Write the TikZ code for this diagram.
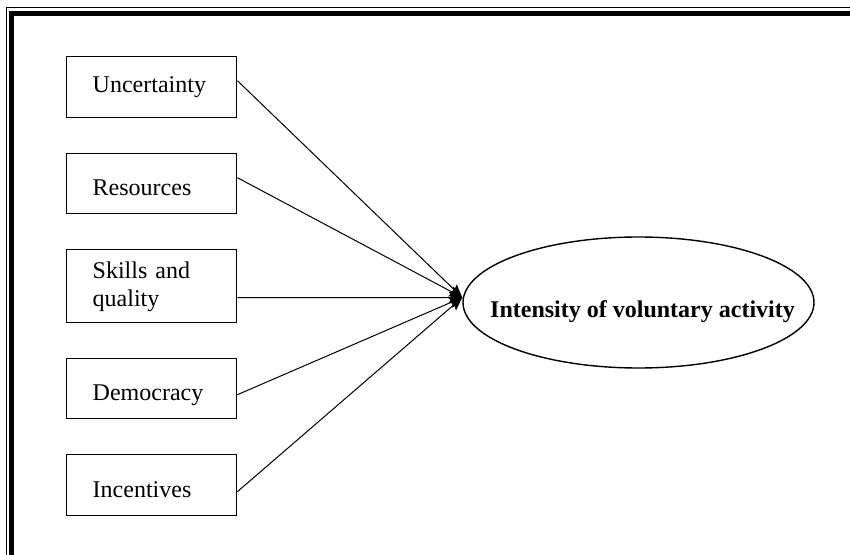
\documentclass[tikz,border=0pt]{standalone}
\usepackage{fontspec}
\setmainfont{Liberation Serif}
\usetikzlibrary{arrows.meta, shapes.geometric}

\begin{document}
\begin{tikzpicture}[x=0.5pt, y=-0.5pt]
% Styles
\tikzset{
    factor/.style={draw, line width=0.7pt, anchor=north west, inner xsep=13pt, inner ysep=0pt,
        text width=59pt, align=left, font=\fontsize{12}{13.8}\selectfont},
    outcome/.style={draw, ellipse, line width=0.7pt, inner sep=0pt,
        minimum width=175.5pt, minimum height=65.5pt},
    outcomelabel/.style={font=\fontsize{12}{13.8}\selectfont\bfseries, inner sep=0pt,
        xshift=2pt, yshift=-4.5pt},
    link/.style={line width=0.5pt, -{Stealth[length=6.5pt, width=5.5pt, inset=1pt]}}
}
\useasboundingbox (0,0) rectangle (850,555);

% Frame
\draw[line width=0.75pt] (850,7.5) -| (6.5,555);
\draw[line width=2.4pt] (850,13.5) -| (11.75,555);

% Nodes
\node[factor, text height=18pt, text depth=12.5pt] (UNC) at (66,56) {Uncertainty};
\node[factor, text height=21pt, text depth=9pt] (RES) at (66,153) {Resources};
\node[factor, text height=14.5pt, text depth=22pt] (SKL) at (66,249) {Skills and\\quality};
\node[factor, text height=21pt, text depth=9pt] (DEM) at (66,358) {Democracy};
\node[factor, text height=21.5pt, text depth=9pt] (INC) at (66,454) {Incentives};

\node[outcome, label={[outcomelabel]center:Intensity of voluntary activity}] (INT) at (638.5,302.5) {};
\coordinate (HUB) at ([yshift=2.5pt]INT.west);

% Connections
\draw[link] ([yshift=3.25pt]UNC.east) -- (HUB);
\draw[link] ([yshift=3pt]RES.east) -- (HUB);
\draw[link] ([yshift=-5.75pt]SKL.east) -- (HUB);
\draw[link] ([yshift=-3pt]DEM.east) -- (HUB);
\draw[link] ([yshift=-3.25pt]INC.east) -- (HUB);
\end{tikzpicture}
\end{document}
